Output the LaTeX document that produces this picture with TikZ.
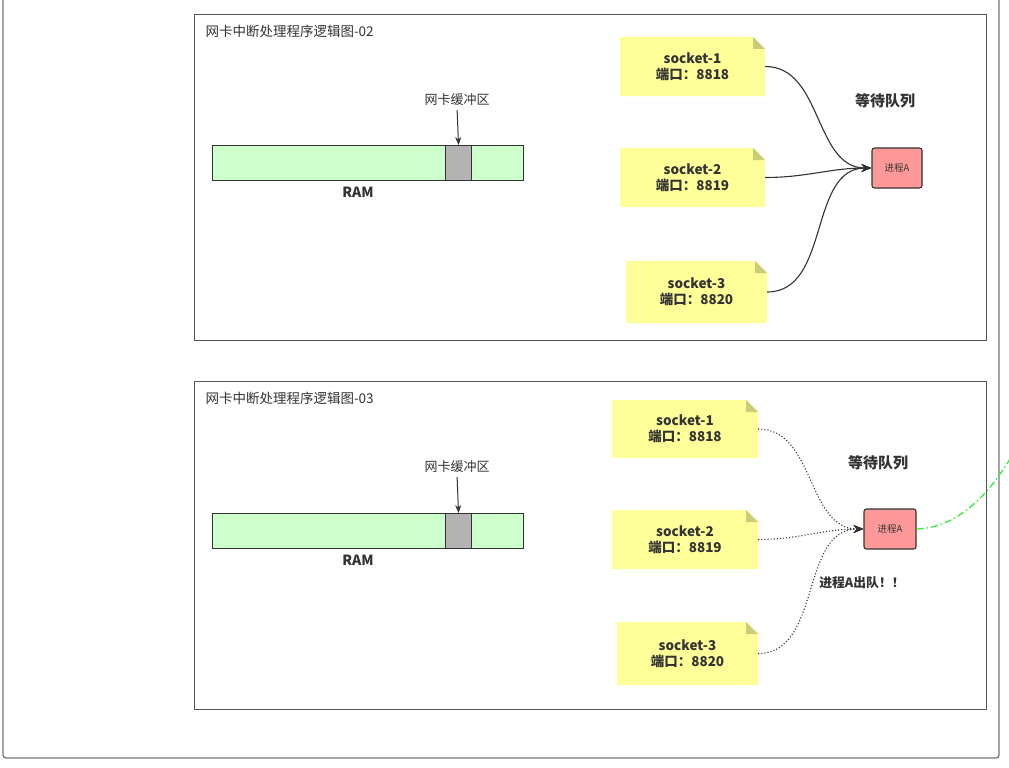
\documentclass[tikz,border=0pt]{standalone}
\usepackage{fontspec}
\setmainfont{Noto Sans CJK SC}
\usetikzlibrary{arrows.meta}
\definecolor{ramgreen}{HTML}{CCFFCC}
\definecolor{bufgray}{HTML}{B3B3B3}
\definecolor{notey}{HTML}{FFFF99}
\definecolor{notefold}{HTML}{CCCC77}
\definecolor{procred}{HTML}{FF9999}
\definecolor{ink}{HTML}{333333}
\definecolor{framec}{HTML}{555555}
\definecolor{outerc}{HTML}{777777}
\definecolor{dashgreen}{HTML}{33EE33}
\tikzset{
  panel/.style={draw=framec, line width=1.3pt, anchor=north west, inner sep=0pt},
  ttl/.style={anchor=west, text=ink, font=\fontsize{13.5}{15}\selectfont},
  rambar/.style={draw=ink, line width=1pt, fill=ramgreen, anchor=north west, inner sep=0pt, minimum width=311pt, minimum height=35pt},
  bufbox/.style={draw=ink, line width=1pt, fill=bufgray, anchor=north west, inner sep=0pt, minimum width=26pt, minimum height=35pt},
  lbl/.style={text=ink, font=\fontsize{13}{15}\selectfont, inner sep=1pt},
  blbl/.style={text=ink, font=\bfseries\fontsize{14}{16}\selectfont, inner sep=1pt},
  qlbl/.style={text=ink, font=\bfseries\fontsize{15}{17}\selectfont, inner sep=1pt},
  note/.style={inner sep=0pt, align=center, text=ink,
    font=\bfseries\fontsize{13.5}{16}\selectfont,
    path picture={
      \fill[notey] (path picture bounding box.south west) -- (path picture bounding box.north west)
        -- ([xshift=-12pt]path picture bounding box.north east)
        -- ([yshift=-12pt]path picture bounding box.north east)
        -- (path picture bounding box.south east) -- cycle;
      \fill[notefold] ([xshift=-12pt]path picture bounding box.north east)
        -- ([xshift=-12pt,yshift=-12pt]path picture bounding box.north east)
        -- ([yshift=-12pt]path picture bounding box.north east) -- cycle;
    }},
  proc/.style={draw=ink, line width=1.1pt, fill=procred, rounded corners=2.5pt, inner sep=0pt,
    minimum width=50pt, minimum height=40pt, text=ink, font=\fontsize{9.5}{11}\selectfont},
  flow/.style={draw=ink, line width=1.1pt, -{Stealth[length=10pt,width=8pt]}},
  dflow/.style={draw=ink, line width=1.1pt, dotted, -{Stealth[length=10pt,width=8pt]}},
  downarrow/.style={draw=ink, line width=1pt, -{Stealth[length=8pt,width=6pt]}},
  exitflow/.style={draw=dashgreen, line width=1.3pt, dash pattern=on 7pt off 3pt on 1.5pt off 3pt}
}
\begin{document}
\begin{tikzpicture}[x=1pt,y=-1pt]
\useasboundingbox (0,0) rectangle (1009,768);
\clip (0,0) rectangle (1009,768);
\fill[white] (0,0) rectangle (1009,768);
% outer frame
\draw[outerc, line width=1.3pt, rounded corners=3pt] (3,-10) -- (3,758) -- (999,758) -- (999,-10);

% ---------- panel 1 ----------
\node[panel, minimum width=792pt, minimum height=326pt] (panelA) at (194,14) {};
\node[ttl] (titleA) at (202,31) {网卡中断处理程序逻辑图-02};
\node[rambar] (ramA) at (212,145) {};
\node[bufbox] (bufA) at (445,145) {};
\node[lbl] (buflA) at (457,100) {网卡缓冲区};
\draw[downarrow, shorten <=3pt] (buflA.south) -- (bufA.north);
\node[blbl] (ramlA) at (358,192) {RAM};

\node[note, minimum width=145pt, minimum height=59pt] (sA1) at (692.5,66.5) {socket-1\\端口：8818};
\node[note, minimum width=145pt, minimum height=59pt] (sA2) at (692.5,177.5) {socket-2\\端口：8819};
\node[note, minimum width=141pt, minimum height=62pt] (sA3) at (696.5,292) {socket-3\\端口：8820};
\node[qlbl] (qA) at (885,101) {等待队列};
\node[proc] (pA) at (897,168) {进程A};
\draw[flow] (sA1.east) to[out=0,in=180] (pA.west);
\draw[flow] (sA2.east) to[out=0,in=180] (pA.west);
\draw[flow] (sA3.east) to[out=0,in=180] (pA.west);

% ---------- panel 2 ----------
\node[panel, minimum width=792pt, minimum height=328pt] (panelB) at (194,381) {};
\node[ttl] (titleB) at (202,398) {网卡中断处理程序逻辑图-03};
\node[rambar] (ramB) at (212,513) {};
\node[bufbox] (bufB) at (445,513) {};
\node[lbl] (buflB) at (457,467) {网卡缓冲区};
\draw[downarrow, shorten <=3pt] (buflB.south) -- (bufB.north);
\node[blbl] (ramlB) at (358,560) {RAM};

\node[note, minimum width=146pt, minimum height=58pt] (sB1) at (685,429) {socket-1\\端口：8818};
\node[note, minimum width=146pt, minimum height=59pt] (sB2) at (685,539.5) {socket-2\\端口：8819};
\node[note, minimum width=141pt, minimum height=63pt] (sB3) at (687.5,653.5) {socket-3\\端口：8820};
\node[qlbl] (qB) at (878,463) {等待队列};
\node[proc, minimum width=52pt] (pB) at (890,529) {进程A};
\draw[dflow] (sB1.east) to[out=0,in=180] (pB.west);
\draw[dflow] (sB2.east) to[out=0,in=180] (pB.west);
\draw[dflow] (sB3.east) to[out=0,in=180] (pB.west);
\node[blbl, font=\bfseries\fontsize{12.8}{14}\selectfont] (outB) at (862,583) {进程A出队！！};

\coordinate (exitEnd) at (1014,452);
\draw[exitflow] (pB.east) .. controls (955,528) and (988,498) .. (exitEnd);
\end{tikzpicture}
\end{document}
